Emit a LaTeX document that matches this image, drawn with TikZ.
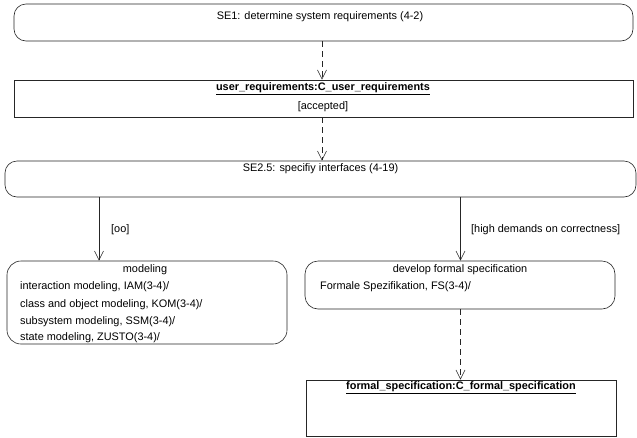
\documentclass[tikz,border=0pt]{standalone}
\usepackage{fontspec}
\setmainfont{Liberation Sans}
\usetikzlibrary{arrows.meta}
\tikzset{
  every node/.style={font=\fontsize{10.9}{12}\selectfont, inner sep=0pt},
  actbox/.style={draw=black!85, line width=0.6pt, rounded corners=12pt, minimum width=#1},
  objbox/.style={draw=black!85, line width=0.8pt, minimum width=#1},
  lbl/.style={text=black},
  flow/.style={draw=black!85, line width=0.6pt, -{Straight Barb[length=9pt,width=9pt]}},
  objflow/.style={flow, dash pattern=on 6pt off 4pt},
}
\begin{document}
\begin{tikzpicture}[x=1pt,y=-1pt]
\useasboundingbox (0,0) rectangle (637,437);
% boxes
\node[actbox=619pt, minimum height=37pt] (se1) at (323.5,22.5) {};
\node[objbox=619pt, minimum height=37pt] (ureq) at (323.5,98.5) {};
\node[actbox=631pt, minimum height=36pt] (se25) at (320.5,179) {};
\node[actbox=280pt, minimum height=83pt, rounded corners=14pt] (model) at (147,302.5) {};
\node[actbox=310pt, minimum height=48pt, rounded corners=13pt] (devel) at (460,285) {};
\node[objbox=310pt, minimum height=56pt] (fspec) at (461,408) {};
% texts
\node[lbl] (t1) at (320,17) {SE1: determine system requirements (4-2)};
\node[lbl] (t2) at (323,89) {\textbf{\underline{user\_requirements:C\_user\_requirements}}};
\node[lbl] (t3) at (323,107) {[accepted]};
\node[lbl] (t4) at (320.5,169) {SE2.5: specifiy interfaces (4-19)};
\node[lbl] (t5) at (145,270) {modeling};
\node[lbl, anchor=west] (m1) at (20,287) {interaction modeling, IAM(3-4)/};
\node[lbl, anchor=west] (m2) at (20,305) {class and object modeling, KOM(3-4)/};
\node[lbl, anchor=west] (m3) at (20,322) {subsystem modeling, SSM(3-4)/};
\node[lbl, anchor=west] (m4) at (20,338) {state modeling, ZUSTO(3-4)/};
\node[lbl] (t6) at (460,270) {develop formal specification};
\node[lbl, anchor=west] (d1) at (320,287) {Formale Spezifikation, FS(3-4)/};
\node[lbl] (t7) at (461,388) {\textbf{\underline{formal\_specification:C\_formal\_specification}}};
% connectors
\coordinate (cx1) at (322,0);
\coordinate (cx2) at (99,0);
\coordinate (cx3) at (460.5,0);
\draw[objflow] (se1.south -| cx1) -- (ureq.north -| cx1);
\draw[objflow] (ureq.south -| cx1) -- (se25.north -| cx1);
\draw[flow] (se25.south -| cx2) -- (model.north -| cx2);
\draw[flow] (se25.south -| cx3) -- (devel.north -| cx3);
\draw[objflow] (devel.south -| cx3) -- (fspec.north -| cx3);
\node[lbl, anchor=west] (g1) at (111,230) {[oo]};
\node[lbl, anchor=west] (g2) at (471,230) {[high demands on correctness]};
\end{tikzpicture}
\end{document}
